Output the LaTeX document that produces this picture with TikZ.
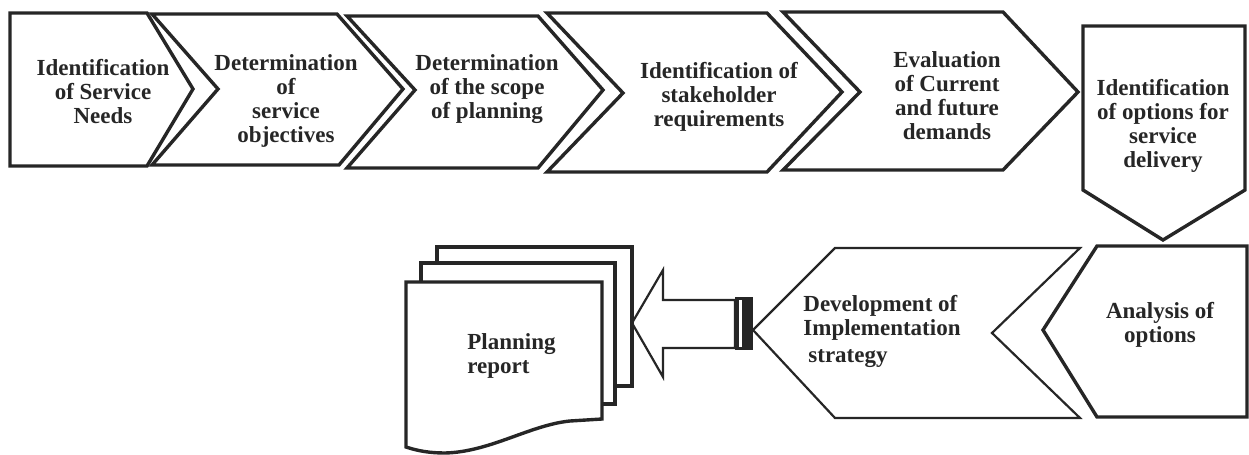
\documentclass[tikz,border=0pt]{standalone}
\usepackage{fontspec}
\setmainfont{Liberation Serif}
\begin{document}
\begin{tikzpicture}[x=0.5pt,y=-0.5pt,
  shp/.style={draw=black!85, line width=1.7pt, fill=white, line join=miter},
  thin/.style={draw=black!85, line width=1.1pt, fill=white, line join=miter},
  lbl/.style={font=\bfseries\fontsize{11.5}{12}\selectfont, align=center, text=black!85, inner sep=0pt}]
\useasboundingbox (0,0) rectangle (1249,455);
% top row
\path[shp] (10,13) -- (147,13) -- (193,89) -- (147,166) -- (10,166) -- cycle;
\path[shp] (152,14) -- (337,14) -- (403,89) -- (339,165) -- (152,165) -- (218,89) -- cycle;
\path[shp] (347,16) -- (538,16) -- (603,90) -- (538,168) -- (347,168) -- (415,90) -- cycle;
\path[shp] (547,13) -- (767,13) -- (842,92) -- (767,172) -- (547,172) -- (623,93) -- cycle;
\path[shp] (783,12) -- (1003,12) -- (1078,92) -- (1003,170) -- (783,170) -- (860,92) -- cycle;
\path[shp] (1083,26) -- (1245,26) -- (1245,190) -- (1163,240) -- (1083,190) -- cycle;
% bottom row
\path[shp] (1097,246) -- (1247,246) -- (1247,417) -- (1097,417) -- (1043,330) -- cycle;
\path[thin] (753,330) -- (835,248) -- (1080,248) -- (992,333) -- (1080,418) -- (835,418) -- cycle;
% block arrow
\path[thin] (632,323) -- (663,270) -- (663,300) -- (735,300) -- (735,348) -- (663,348) -- (663,377) -- cycle;
\fill[black!85] (735,297) rectangle (753,350);
\fill[white] (739,300) rectangle (742,347);
% documents
\path[shp] (437,247) rectangle (632,386);
\path[shp] (421,263) rectangle (615,404);
\path[shp] (406,282) -- (602,282) -- (602,419) -- (570,421)
  .. controls (530,425) and (490,452) .. (445,453)
  .. controls (430,453) and (418,451) .. (406,447) -- cycle;
% labels
\node[lbl] (t1) at (103,92) {Identification\\of Service\\Needs};
\node[lbl] (t2) at (286,101) {Determination\\of\\service\\objectives};
\node[lbl] (t3) at (487,89) {Determination\\of the scope\\of planning};
\node[lbl] (t4) at (719,97) {Identification of\\stakeholder\\requirements};
\node[lbl] (t5) at (947,96) {Evaluation\\of Current\\and future\\demands};
\node[lbl] (t6) at (1163,126) {Identification\\of options for\\service\\delivery};
\node[lbl] (t7) at (1160,325) {Analysis of\\options};
\node[lbl, align=left, anchor=west] (t8) at (803,331) {Development of\\Implementation\\[1.5pt]\hspace*{2.5pt}strategy};
\node[lbl, align=left, anchor=west] (t9) at (467,356) {Planning\\report};
\end{tikzpicture}
\end{document}
